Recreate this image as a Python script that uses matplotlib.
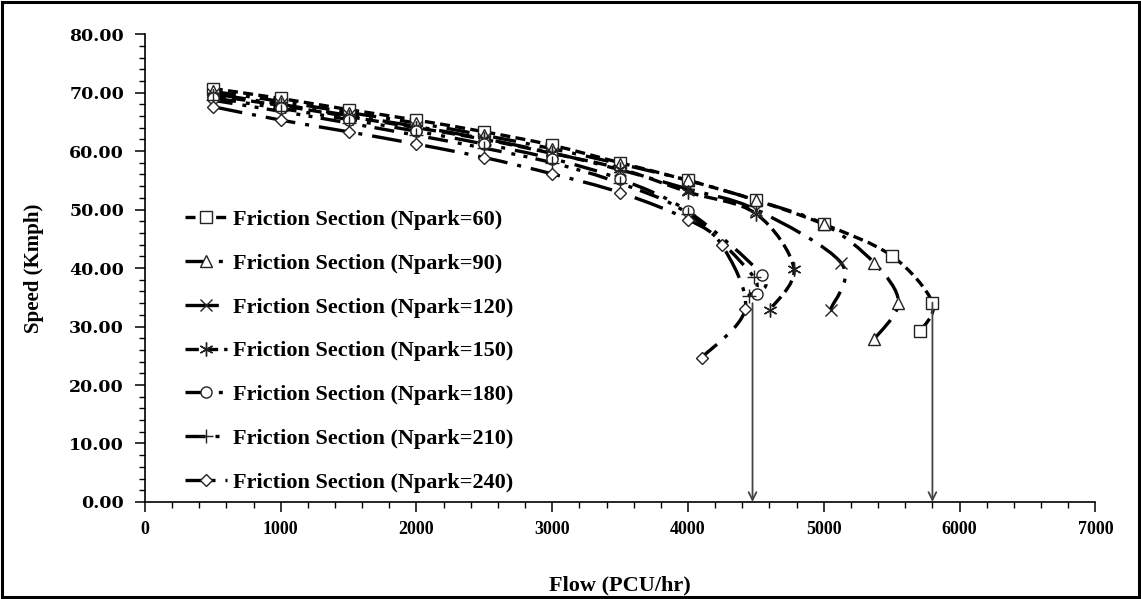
import matplotlib
matplotlib.use('Agg')
import matplotlib.pyplot as plt
from matplotlib.ticker import MultipleLocator, FormatStrFormatter
from matplotlib.patches import Rectangle, PathPatch
from matplotlib.path import Path
from matplotlib.lines import Line2D

# ---------------- data ----------------
labels = ['Friction Section (Npark=60)', 'Friction Section (Npark=90)',
          'Friction Section (Npark=120)', 'Friction Section (Npark=150)',
          'Friction Section (Npark=180)', 'Friction Section (Npark=210)',
          'Friction Section (Npark=240)']

flow_60 = [500, 1000, 1500, 2000, 2500, 3000, 3500, 4000, 4500, 5000, 5500, 5800, 5710]
speed_60 = [70.7, 69.0, 67.1, 65.3, 63.3, 61.0, 58.0, 55.0, 51.6, 47.5, 42.1, 34.1, 29.2]

flow_90 = [500, 1000, 1500, 2000, 2500, 3000, 3500, 4000, 4500, 5000, 5370, 5550, 5370]
speed_90 = [70.2, 68.5, 66.6, 64.8, 62.7, 60.4, 57.8, 55.0, 51.6, 47.5, 40.9, 34.1, 27.8]

flow_120 = [500, 1000, 1500, 2000, 2500, 3000, 3500, 4000, 4500, 5130, 5050]
speed_120 = [69.8, 68.0, 66.1, 64.2, 62.1, 59.7, 56.8, 53.5, 50.0, 40.8, 32.9]

flow_150 = [500, 1000, 1500, 2000, 2500, 3000, 3500, 4000, 4500, 4780, 4605]
speed_150 = [69.5, 67.8, 65.9, 64.0, 62.0, 59.6, 57.0, 53.0, 49.3, 39.9, 32.9]

flow_180 = [500, 1000, 1500, 2000, 2500, 3000, 3500, 4000, 4545, 4505]
speed_180 = [69.1, 67.3, 65.4, 63.4, 61.2, 58.7, 55.2, 49.7, 38.8, 35.6]

flow_210 = [500, 1000, 1500, 2000, 2500, 3000, 3500, 4000, 4483, 4446]
speed_210 = [68.7, 66.8, 64.8, 62.7, 60.5, 58.0, 54.5, 49.3, 38.5, 35.2]

flow_240 = [500, 1000, 1500, 2000, 2500, 3000, 3500, 4000, 4250, 4421, 4102]
speed_240 = [67.6, 65.3, 63.3, 61.2, 58.9, 56.1, 52.9, 48.3, 43.9, 33.0, 24.7]

arrow_flows = [4475, 5800]
arrow_tops = [34.0, 34.1]

flows = [flow_60, flow_90, flow_120, flow_150, flow_180, flow_210, flow_240]
speeds = [speed_60, speed_90, speed_120, speed_150, speed_180, speed_210, speed_240]

# ---------------- styles ----------------
markers = ['s', '^', 'x', (6, 2, 0), 'o', '+', 'D']
msizes = [8.5, 8.5, 9, 10, 8, 10, 6.5]
dashes = [(0, (3, 1.6)),
          (0, (7, 3, 1.2, 3)),
          (0, (10, 3, 1.2, 3)),
          (0, (4, 1.8)),
          (0, (7, 3, 1.2, 3, 1.2, 3)),
          (0, (6, 3, 1.2, 2.5, 1.2, 2.5)),
          (0, (9, 3, 1.2, 3))]
LW = 2.4

serif = ['Liberation Serif', 'DejaVu Serif']
plt.rcParams['font.family'] = serif
plt.rcParams['font.weight'] = 'bold'


def smooth_path(xs, ys):
    """Excel-style smoothed line through the points (Catmull-Rom as cubic Bezier)."""
    pts = list(zip(xs, ys))
    n = len(pts)
    verts = [pts[0]]
    codes = [Path.MOVETO]
    for i in range(n - 1):
        p0 = pts[i - 1] if i > 0 else pts[i]
        p1 = pts[i]
        p2 = pts[i + 1]
        p3 = pts[i + 2] if i + 2 < n else pts[i + 1]
        c1 = (p1[0] + (p2[0] - p0[0]) / 6.0, p1[1] + (p2[1] - p0[1]) / 6.0)
        c2 = (p2[0] - (p3[0] - p1[0]) / 6.0, p2[1] - (p3[1] - p1[1]) / 6.0)
        verts += [c1, c2, p2]
        codes += [Path.CURVE4] * 3
    return Path(verts, codes)


fig = plt.figure(figsize=(11.41, 5.99), dpi=100)
ax = fig.add_axes([0.127, 0.162, 0.833, 0.781])

handles = []
for f, s, lab, m, ms, ls in zip(flows, speeds, labels, markers, msizes, dashes):
    patch = PathPatch(smooth_path(f, s), fill=False, edgecolor='black', lw=LW,
                      linestyle=ls, capstyle='butt', zorder=2)
    ax.add_patch(patch)
    ax.plot(f, s, linestyle='none', marker=m, ms=ms, mfc='white',
            mec='#222222', mew=1.0, zorder=3)
    handles.append(Line2D([], [], linestyle=ls, color='black', lw=LW, marker=m,
                          ms=ms, mfc='white', mec='#222222', mew=1.0,
                          dash_capstyle='butt'))

for xf, yt in zip(arrow_flows, arrow_tops):
    ax.annotate('', xy=(xf, 0), xytext=(xf, yt),
                arrowprops=dict(arrowstyle='->', color='#444444', lw=1.3,
                                mutation_scale=14, shrinkA=0, shrinkB=0))

ax.set_xlim(0, 7000)
ax.set_ylim(0, 80)
ax.xaxis.set_major_locator(MultipleLocator(1000))
ax.xaxis.set_minor_locator(MultipleLocator(200))
ax.yaxis.set_major_locator(MultipleLocator(10))
ax.yaxis.set_minor_locator(MultipleLocator(2))
ax.yaxis.set_major_formatter(FormatStrFormatter('%.2f'))

for sp in ['top', 'right']:
    ax.spines[sp].set_visible(False)
for sp in ['left', 'bottom']:
    ax.spines[sp].set_linewidth(1.2)
    ax.spines[sp].set_color('black')

ax.tick_params(axis='both', which='major', direction='out', length=7, width=1.1, color='black')
ax.tick_params(axis='both', which='minor', direction='out', length=4, width=1.0, color='black')
ax.tick_params(axis='x', which='major', pad=7, labelsize=13, labelfontfamily='Liberation Serif')
ax.tick_params(axis='y', which='major', pad=8, labelsize=12.5, labelfontfamily='DejaVu Serif')

ax.set_xlabel('Flow (PCU/hr)', fontsize=16, fontweight='bold', labelpad=27)
ax.set_ylabel('Speed (Kmph)', fontsize=15, fontweight='bold', labelpad=18)

leg = ax.legend(handles, labels, loc='upper left', bbox_to_anchor=(0.03, 0.649), frameon=False,
                borderpad=0, labelspacing=1.045, handlelength=1.9, handletextpad=0.3,
                prop={'family': serif, 'weight': 'bold', 'size': 16})

fig.patches.append(Rectangle((0.002, 0.003), 0.996, 0.994, transform=fig.transFigure,
                             fill=False, edgecolor='black', lw=2.2))

fig.savefig('out.png', dpi=100)
